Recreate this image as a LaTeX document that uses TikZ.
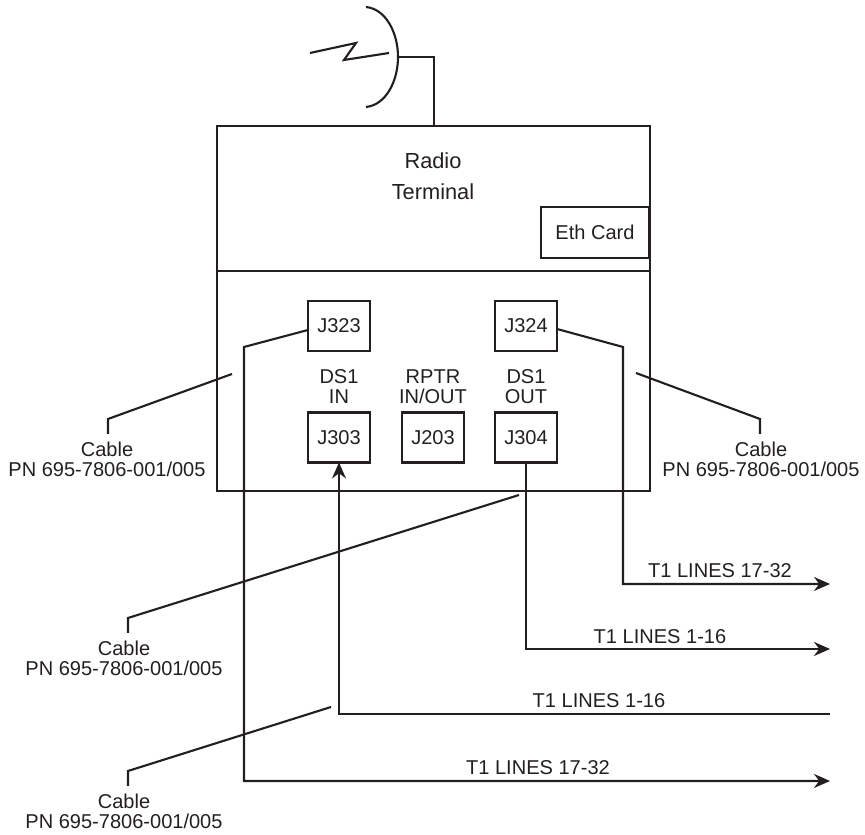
\documentclass[tikz,border=0pt]{standalone}
\usepackage{fontspec}
\setmainfont{Liberation Sans}
\usetikzlibrary{arrows.meta, positioning, calc}
\definecolor{ink}{HTML}{231F20}

\begin{document}
\begin{tikzpicture}[
    y=-1cm,
    >={Stealth[length=0.16cm, width=0.14cm]},
    line width=0.6pt,
    ink,
    % all positions are read off the sheet, origin top left
    jack/.style={
        rectangle, draw=ink, line width=0.6pt, outer sep=0pt, inner sep=0pt,
        minimum width=0.62cm, minimum height=0.50cm,
        font=\fontsize{5.7}{6}\selectfont, text=ink,
    },
    frame/.style={rectangle, draw=ink, line width=0.6pt, outer sep=0pt},
    caption/.style={font=\fontsize{5.7}{5.7}\selectfont, text=ink, align=center, inner sep=0pt},
    title/.style={font=\fontsize{6.2}{8.8}\selectfont, text=ink, align=center, inner sep=0pt},
    cablelabel/.style={caption, anchor=north, inner ysep=0.07cm},
    linelabel/.style={caption},
    wire/.style={draw=ink, line width=0.6pt},
    leader/.style={draw=ink, line width=0.6pt},
]

% =====================================================================
% TERMINAL
% =====================================================================

\useasboundingbox (0,0) rectangle (8.65,8.35);

\node[frame, minimum width=4.33cm, minimum height=3.65cm] (terminal) at (4.335,3.085) {};
\node[title] (radiotext) at (4.33,1.765) {Radio\\Terminal};
\node[frame, minimum width=1.08cm, minimum height=0.51cm, font=\fontsize{5.7}{6}\selectfont] (eth) at (5.95,2.325) {Eth Card};
\coordinate (divideL) at (terminal.west |- 0,2.71);
\coordinate (divideR) at (terminal.east |- 0,2.71);
\draw[wire] (divideL) -- (divideR);

% =====================================================================
% ANTENNA
% =====================================================================

\coordinate (dishtop) at (3.66,0.07);
\coordinate (dishmid) at (3.98,0.57);
\coordinate (dishbot) at (3.66,1.07);
\draw[wire] (dishtop) .. controls (3.86,0.09) and (3.98,0.33) .. (dishmid)
    .. controls (3.98,0.81) and (3.86,1.05) .. (dishbot);
\draw[wire] (dishmid) -- (4.34,0.57) -- (4.34,0 |- terminal.north);
\draw[wire] (3.10,0.53) -- (3.56,0.43) -- (3.44,0.60) -- (3.89,0.53);

% =====================================================================
% JACKS
% =====================================================================

\node[jack] (j323) at (3.39,3.26) {J323};
\node[jack] (j324) at (5.26,3.26) {J324};
\node[jack] (j303) at (3.39,4.375) {J303};
\node[jack] (j203) at (4.33,4.375) {J203};
\node[jack] (j304) at (5.26,4.375) {J304};

\node[caption] (ds1in)  at (3.39,3.87) {DS1\\IN};
\node[caption] (rptr)   at (4.33,3.87) {RPTR\\IN/OUT};
\node[caption] (ds1out) at (5.26,3.87) {DS1\\OUT};

% =====================================================================
% T1 LINES
% =====================================================================

\coordinate (outA) at (8.30,5.84);
\coordinate (outB) at (8.30,6.49);
\coordinate (inC)  at (8.30,7.14);
\coordinate (outD) at (8.30,7.81);

\draw[wire, ->] ([yshift=-0.03cm] j324.east) -- (6.23,3.47) -- (6.23,0 |- outA) -- (outA);
\draw[wire, ->] (j304.south) -- (j304.south |- outB) -- (outB);
\draw[wire, ->] (inC) -- (j303.south |- inC) -- (j303.south);
\draw[wire, ->] ([yshift=-0.04cm] j323.west) -- (2.44,3.47) -- (2.44,0 |- outD) -- (outD);

\node[linelabel] (lineA) at (7.20,5.71) {T1 LINES 17-32};
\node[linelabel] (lineB) at (6.60,6.37) {T1 LINES 1-16};
\node[linelabel] (lineC) at (5.99,7.01) {T1 LINES 1-16};
\node[linelabel] (lineD) at (5.38,7.68) {T1 LINES 17-32};

% =====================================================================
% CABLE CALLOUTS
% =====================================================================

\node[cablelabel] (cableA) at (1.07,4.34) {Cable\\PN 695-7806-001/005};
\node[cablelabel] (cableB) at (7.61,4.34) {Cable\\PN 695-7806-001/005};
\node[cablelabel] (cableC) at (1.24,6.33) {Cable\\PN 695-7806-001/005};
\node[cablelabel] (cableD) at (1.24,7.86) {Cable\\PN 695-7806-001/005};

\coordinate (tapA) at (2.32,3.74);
\coordinate (tapB) at (6.36,3.73);
\coordinate (tapC) at (5.19,4.95);
\coordinate (tapD) at (3.31,7.07);

\draw[leader] (tapA) -- (1.08,4.19) -- (1.08,0 |- cableA.north);
\draw[leader] (tapB) -- (7.60,4.19) -- (7.60,0 |- cableB.north);
\draw[leader] (tapC) -- (1.28,6.18) -- (1.28,0 |- cableC.north);
\draw[leader] (tapD) -- (1.28,7.71) -- (1.28,0 |- cableD.north);

\end{tikzpicture}
\end{document}
